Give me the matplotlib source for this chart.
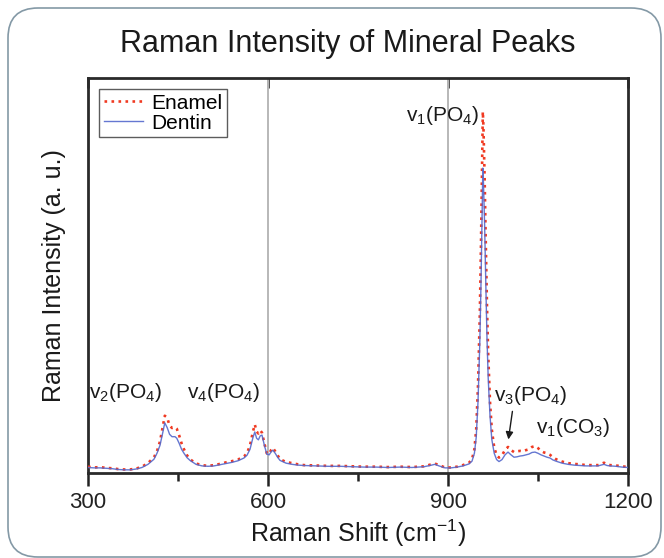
import numpy as np
import matplotlib.pyplot as plt
from matplotlib.patches import FancyBboxPatch
from matplotlib.ticker import FixedLocator

plt.rcParams['font.family'] = ['Liberation Sans', 'DejaVu Sans']
plt.rcParams['mathtext.fontset'] = 'custom'
plt.rcParams['mathtext.rm'] = 'Liberation Sans'
plt.rcParams['mathtext.default'] = 'rm'

# Raman shift (cm-1)
shift = [300, 310, 320, 330, 340, 350, 360, 370, 380, 390, 400, 410, 415, 420, 425, 428, 432, 436, 440, 445,
         448, 452, 456, 460, 465, 470, 480, 490, 500, 510, 520, 530, 540, 550, 560, 565, 570, 575, 578, 581,
         584, 587, 590, 594, 598, 602, 605, 608, 612, 616, 620, 630, 640, 650, 660, 680, 700, 720, 740, 760,
         780, 800, 820, 840, 860, 870, 878, 885, 895, 905, 915, 925, 935, 940, 944, 947, 950, 953, 955, 957,
         958, 959, 961, 963, 965, 967, 970, 973, 977, 981, 985, 990, 995, 1000, 1005, 1010, 1015, 1020, 1025, 1030,
         1035, 1040, 1045, 1050, 1055, 1060, 1065, 1070, 1075, 1080, 1090, 1100, 1110, 1120, 1130, 1140, 1150, 1155,
         1160, 1165, 1170, 1180, 1190, 1200]

enamel = [1.6, 1.4, 1.5, 1.3, 1.2, 1.0, 0.9, 0.9, 1.1, 1.6, 2.5, 4.0, 5.5, 8.0, 12.0, 14.5, 14.0, 12.0, 11.4, 11.6,
          11.2, 9.5, 7.5, 6.0, 4.5, 3.5, 2.4, 2.0, 1.8, 2.0, 2.3, 2.7, 3.0, 3.4, 4.2, 5.0, 7.0, 10.5, 12.3, 10.5,
          10.0, 10.8, 10.2, 7.5, 5.0, 4.8, 5.8, 6.4, 5.5, 4.5, 3.5, 2.8, 2.5, 2.2, 2.0, 1.9, 1.8, 1.8, 1.7, 1.6,
          1.6, 1.5, 1.6, 1.5, 1.7, 2.1, 2.4, 2.0, 1.4, 1.4, 1.6, 2.0, 2.6, 3.5, 6.0, 11.0, 22.0, 40.0, 58.0, 80.0,
          91.5, 88.0, 75.0, 58.0, 42.0, 30.0, 18.0, 11.0, 6.5, 4.5, 3.9, 4.5, 5.8, 6.6, 5.8, 5.3, 5.5, 5.6, 5.5, 5.8,
          6.0, 6.6, 6.8, 6.3, 5.6, 5.2, 5.0, 4.6, 4.0, 3.5, 2.9, 2.5, 2.3, 2.2, 2.0, 2.0, 2.0, 2.3,
          2.6, 2.2, 2.0, 1.9, 1.7, 1.5]

dentin = [1.4, 1.3, 1.3, 1.2, 1.1, 0.9, 0.8, 0.8, 1.0, 1.4, 2.2, 3.5, 5.0, 7.0, 10.5, 12.7, 11.5, 9.8, 9.2, 9.2,
          8.8, 7.5, 6.0, 5.0, 3.9, 3.2, 2.2, 1.8, 1.7, 1.8, 2.1, 2.4, 2.7, 3.1, 3.8, 4.5, 6.0, 9.0, 10.4, 8.8,
          8.4, 9.4, 9.6, 7.0, 4.8, 4.6, 5.3, 5.8, 5.0, 4.0, 3.2, 2.5, 2.2, 2.0, 1.9, 1.8, 1.7, 1.7, 1.6, 1.5,
          1.5, 1.4, 1.5, 1.4, 1.6, 1.9, 2.2, 1.8, 1.3, 1.3, 1.5, 1.8, 2.3, 3.0, 5.0, 9.0, 18.0, 33.0, 48.0, 67.0,
          77.2, 74.0, 63.0, 48.0, 34.0, 24.0, 14.5, 8.5, 5.0, 3.4, 2.9, 3.4, 4.6, 5.3, 4.6, 4.0, 4.1, 4.3, 4.4, 4.6,
          4.8, 5.2, 5.3, 5.0, 4.6, 4.3, 4.0, 3.8, 3.3, 3.0, 2.5, 2.2, 2.0, 1.9, 1.8, 1.8, 1.8, 2.0,
          2.2, 1.9, 1.8, 1.7, 1.5, 1.4]

peak_labels = [r'v$_2$(PO$_4$)', r'v$_4$(PO$_4$)', r'v$_1$(PO$_4$)', r'v$_3$(PO$_4$)', r'v$_1$(CO$_3$)']
peak_label_x = [362, 525, 890, 1037, 1108]
peak_label_y = [20.3, 20.3, 90.6, 19.7, 11.4]

fig = plt.figure(figsize=(6.64, 5.58), dpi=100)

# rounded panel border
border = FancyBboxPatch((8, 1), 653, 549, boxstyle='round,pad=0,rounding_size=30',
                        transform=None, fill=False, edgecolor='#8499a6', linewidth=1.2)
fig.patches.append(border)

ax = fig.add_axes([0.1325, 0.1523, 0.8133, 0.7079])

ax.axvline(600, color='#b8b8b8', lw=1.4, zorder=1)
ax.axvline(900, color='#b8b8b8', lw=1.4, zorder=1)

ax.plot(shift, enamel, color='#f03a22', ls=':', lw=1.9, label='Enamel', zorder=3)
ax.plot(shift, dentin, color='#5468cc', ls='-', lw=1.0, alpha=0.9, label='Dentin', zorder=4)

ax.set_xlim(300, 1200)
ax.set_ylim(0, 100)
ax.set_yticks([])
ax.xaxis.set_major_locator(FixedLocator([300, 600, 900, 1200]))
ax.xaxis.set_minor_locator(FixedLocator([450, 750, 1050]))
ax.tick_params(axis='x', which='major', direction='out', length=9, width=1.8, labelsize=16, pad=5, colors='#222222')
ax.tick_params(axis='x', which='minor', direction='out', length=6, width=1.8, colors='#222222')
for sp in ax.spines.values():
    sp.set_linewidth(2.0)
    sp.set_color('#2a2a2a')

# mirrored top ticks pointing inward
top = ax.secondary_xaxis('top')
top.xaxis.set_major_locator(FixedLocator([300, 600, 900, 1200]))
top.tick_params(direction='in', length=7, width=1.8, labeltop=False, colors='#222222')
top.spines['top'].set_visible(False)

ax.set_xlabel('Raman Shift (cm$^{-1}$)', fontsize=18, labelpad=3, color='#1a1a1a')
ax.set_ylabel('Raman Intensity (a. u.)', fontsize=18, labelpad=16, color='#1a1a1a')

for lab, lx, ly in zip(peak_labels, peak_label_x, peak_label_y):
    ax.text(lx, ly, lab, fontsize=15, ha='center', va='center', color='#1a1a1a')

ax.annotate('', xy=(1000, 7.8), xytext=(1008, 16.3),
            arrowprops=dict(arrowstyle='-|>', color='#1a1a1a', lw=1.0, mutation_scale=11))

leg = ax.legend(loc='upper left', fontsize=15, frameon=True, fancybox=False, handlelength=1.9,
                handletextpad=0.4, borderpad=0.2, labelspacing=0.05, borderaxespad=0.55)
leg.get_frame().set_edgecolor('#333333')
leg.get_frame().set_linewidth(1.0)

fig.text(0.523, 0.922, 'Raman Intensity of Mineral Peaks', fontsize=22, ha='center', va='center',
         color='#1a1a1a')

fig.savefig('out.png', dpi=100)
